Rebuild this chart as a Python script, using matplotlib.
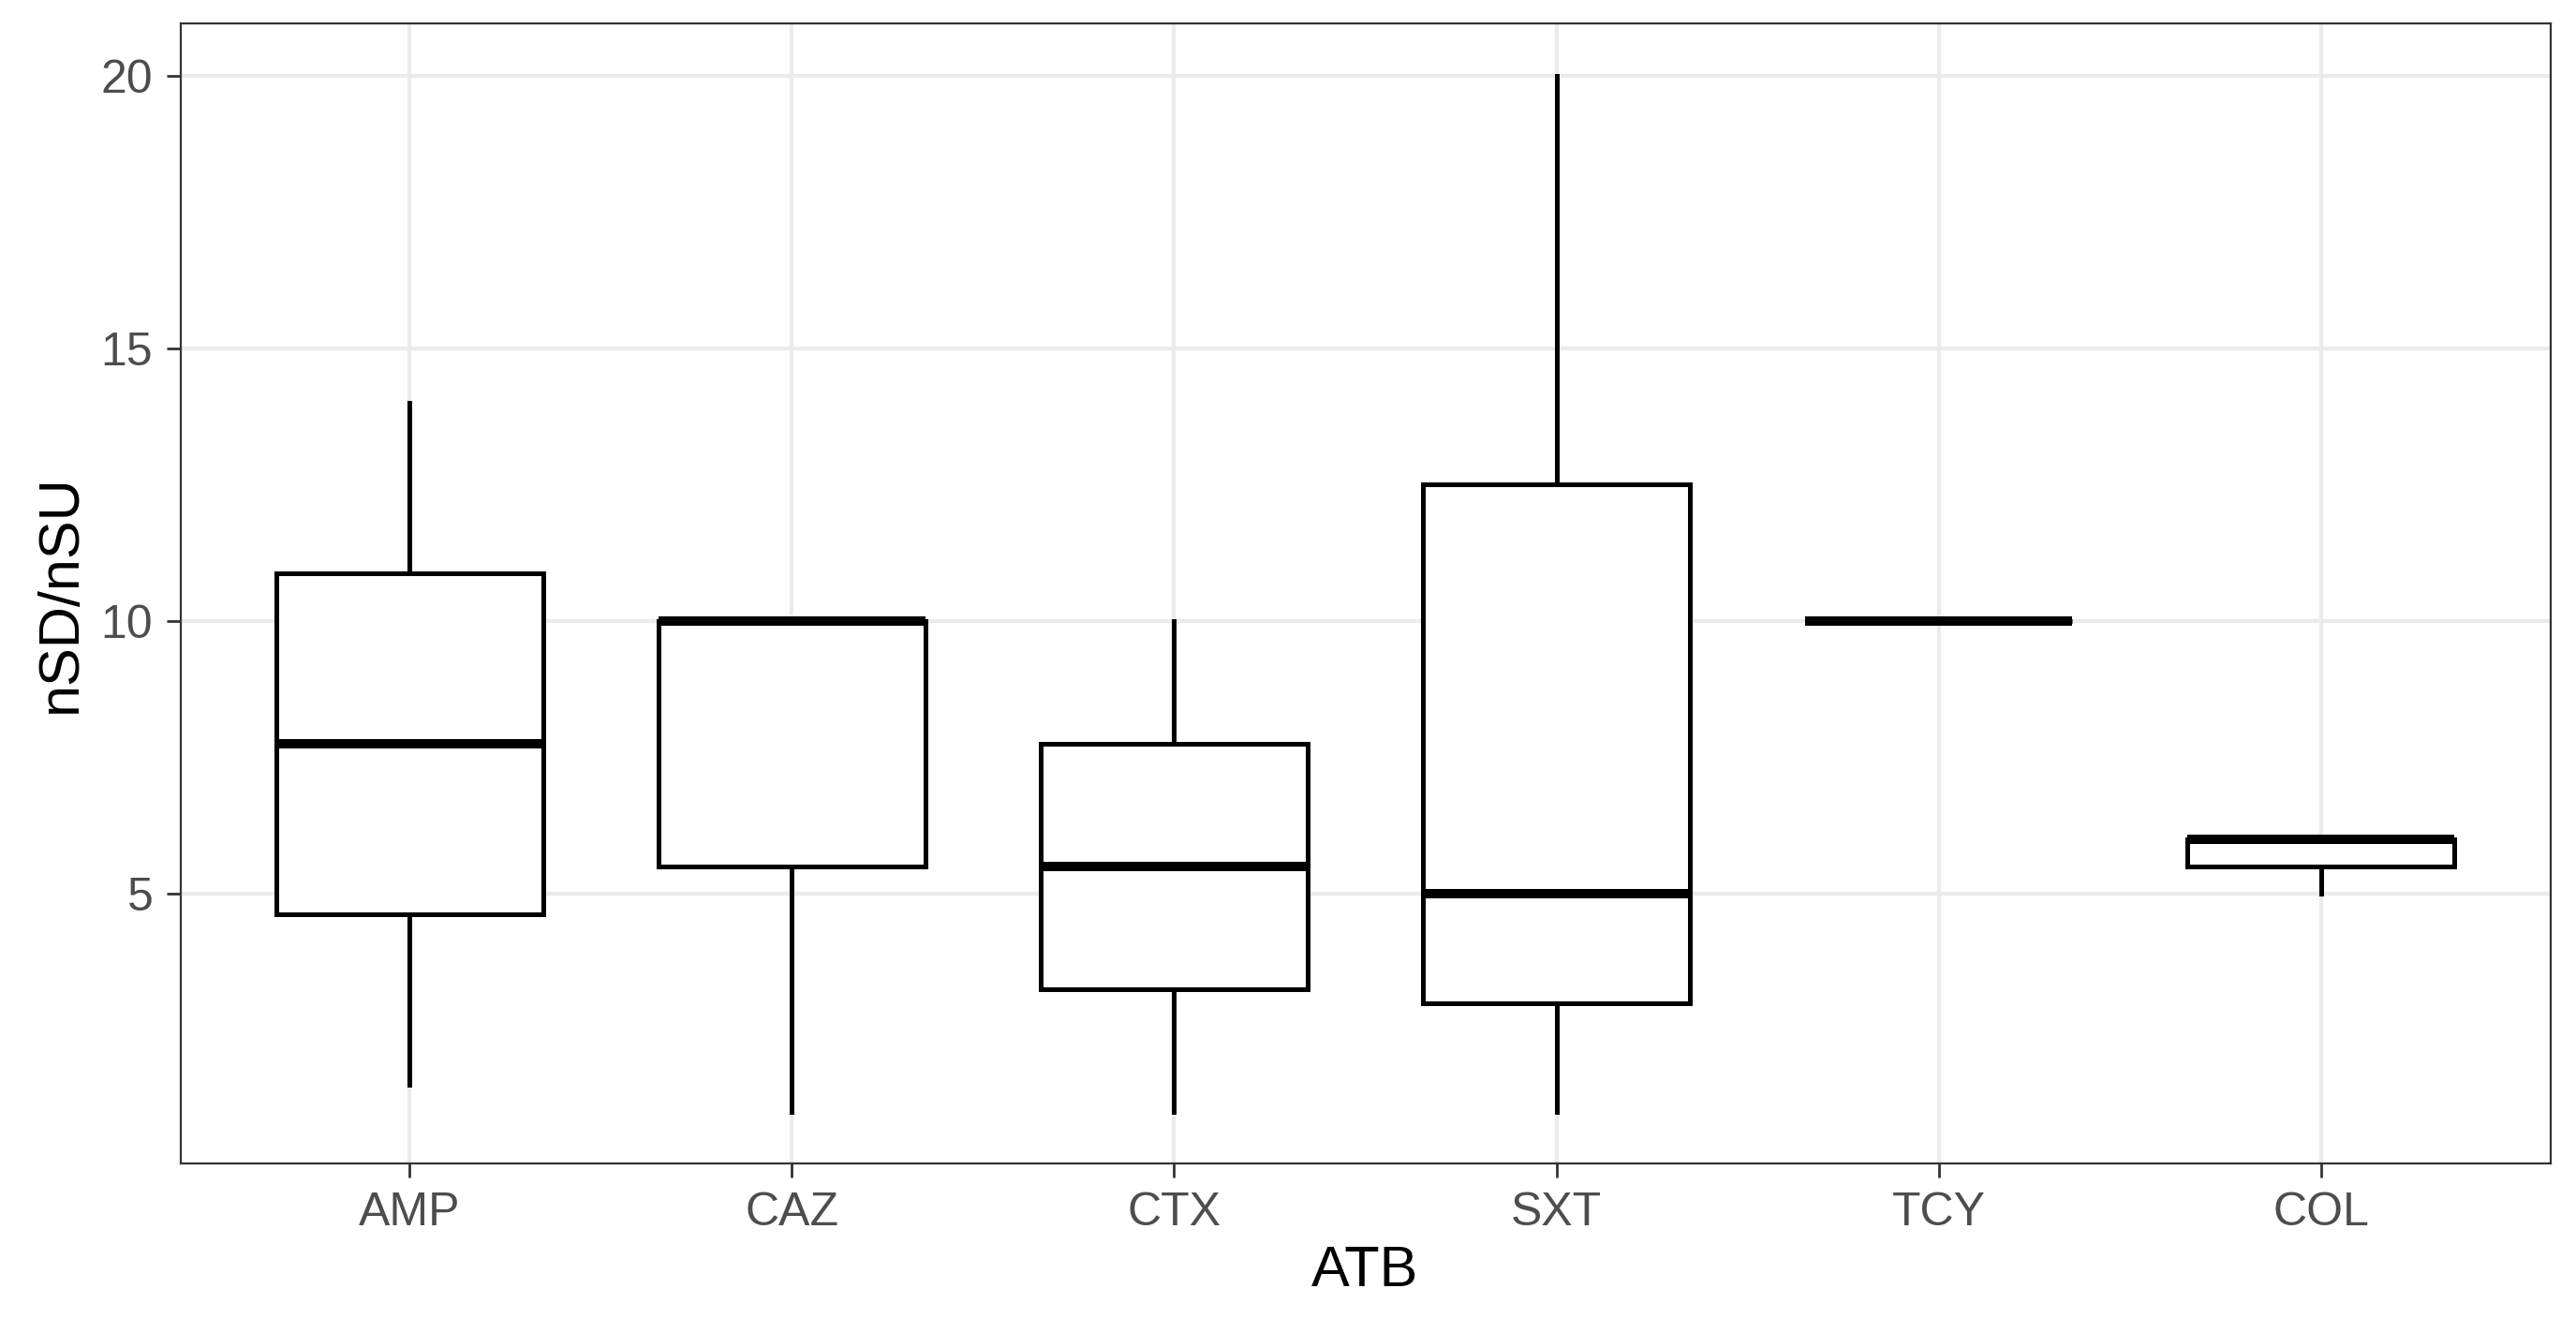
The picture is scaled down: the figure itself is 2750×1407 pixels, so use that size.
import matplotlib
matplotlib.use("Agg")
import matplotlib.pyplot as plt

plt.rcParams['font.family'] = ['Liberation Sans', 'DejaVu Sans']

# categories and five-number summaries
atb = ["AMP", "CAZ", "CTX", "SXT", "TCY", "COL"]
whislo = [1.5, 1.0, 1.0, 1.0, 10.0, 5.0]
q1 = [4.625, 5.5, 3.25, 3.0, 10.0, 5.5]
med = [7.75, 10.0, 5.5, 5.0, 10.0, 6.0]
q3 = [10.875, 10.0, 7.75, 12.5, 10.0, 6.0]
whishi = [14.0, 10.0, 10.0, 20.0, 10.0, 6.0]
y_ticks = [5, 10, 15, 20]

stats = []
for i, name in enumerate(atb):
    stats.append({"label": name, "whislo": whislo[i], "q1": q1[i], "med": med[i],
                  "q3": q3[i], "whishi": whishi[i], "fliers": []})

fig = plt.figure(figsize=(13.75, 7.035), dpi=200)
ax = fig.add_axes([0.070, 0.117, 0.920, 0.865])

# ggplot theme_bw style grid
ax.set_axisbelow(True)
ax.grid(True, color="#EBEBEB", linewidth=1.5)
for s in ax.spines.values():
    s.set_color("#333333")
    s.set_linewidth(0.8)

ax.bxp(stats, positions=range(1, len(atb) + 1), widths=0.7, showfliers=False,
       showcaps=False, patch_artist=True,
       boxprops=dict(facecolor="white", edgecolor="black", linewidth=1.8),
       whiskerprops=dict(color="black", linewidth=1.8),
       medianprops=dict(color="black", linewidth=3.6, solid_capstyle="butt"))

ax.set_xlim(0.4, len(atb) + 0.6)
ax.set_ylim(0.05, 20.95)
ax.set_yticks(y_ticks)
ax.set_xticks(range(1, len(atb) + 1))
ax.set_xticklabels(atb)
ax.tick_params(axis="both", colors="#333333", length=5.5, width=1.0,
               labelsize=18, labelcolor="#4D4D4D", pad=5)

ax.set_xlabel("ATB", fontsize=22, labelpad=4)
ax.set_ylabel("nSD/nSU", fontsize=22, labelpad=5)

fig.savefig("out.png", dpi=200)
